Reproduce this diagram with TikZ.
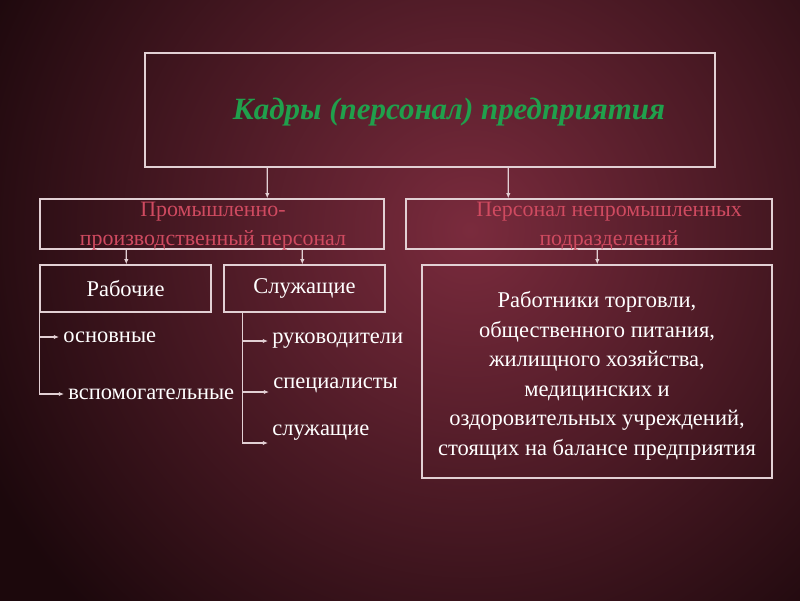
\documentclass[tikz,border=0pt]{standalone}
\usepackage{fontspec}
\setmainfont{Liberation Serif}
\usepackage{xcolor}
\usetikzlibrary{arrows.meta,calc}
\definecolor{bgdark}{HTML}{1C080C}
\definecolor{bglight}{HTML}{7A2B3D}
\definecolor{frame}{HTML}{E2D0D4}
\definecolor{rose}{HTML}{CF4A60}
\definecolor{green2}{HTML}{20A04C}

\begin{document}
\begin{tikzpicture}[
    x=0.025cm,y=-0.025cm,
    box/.style={draw=frame,line width=1pt,inner sep=0pt},
    head/.style={font=\fontsize{15.6}{20.5}\selectfont,text=rose,align=center},
    txt/.style={font=\fontsize{16}{21}\selectfont,text=white},
    item/.style={txt,anchor=west,inner sep=0.1cm},
    arr/.style={-{Latex[length=1.3mm,width=1.1mm]},line width=0.8pt,draw=frame},
  ]
  \useasboundingbox (0,0) rectangle (800,600);
  \fill[bgdark] (-5,-5) rectangle (805,605);
  \begin{scope}
    \clip (-5,-5) rectangle (805,605);
    \shade[inner color=bglight,outer color=bgdark] (470,230) circle[radius=540];
  \end{scope}

  \node[box,minimum width=14.25cm,minimum height=2.85cm] (ttl) at (430,110) {};
  \node[font=\fontsize{22}{27}\selectfont\bfseries\itshape,text=green2] (ttltxt) at (449,112)
    {Кадры (персонал) предприятия};

  \node[box,minimum width=8.6cm,minimum height=1.25cm] (ppp) at (212,224) {};
  \node[head] (ppptxt) at (213,226.5) {Промышленно-\\производственный персонал};
  \node[box,minimum width=9.15cm,minimum height=1.25cm] (npp) at (589,224) {};
  \node[head] (npptxt) at (609,226.5) {Персонал непромышленных\\подразделений};
  \draw[arr] ($(ttl.south west)+(123,0)$) -- ($(ppp.north west)+(228,0)$);
  \draw[arr] ($(ttl.south west)+(364,0)$) -- ($(npp.north west)+(103,0)$);

  \node[box,txt,minimum width=4.275cm,minimum height=1.175cm] (rab) at (125.5,288.5) {Рабочие};
  \node[box,txt,minimum width=4.025cm,minimum height=1.175cm] (slu) at (304.5,288.5) {Служащие};
  \node[box,minimum width=8.75cm,minimum height=5.325cm] (bal) at (597,371.5) {};
  \node[txt,align=center,font=\fontsize{16}{21}\selectfont] (baltxt) at (597,376)
    {Работники торговли,\\общественного питания,\\жилищного хозяйства,\\медицинских и\\
     оздоровительных учреждений,\\стоящих на балансе предприятия};
  \draw[arr] ($(ppp.south west)+(87,0)$) -- ($(rab.north west)+(87,0)$);
  \draw[arr] ($(ppp.south west)+(263,0)$) -- ($(slu.north west)+(79,0)$);
  \draw[arr] ($(npp.south west)+(192,0)$) -- ($(bal.north west)+(176,0)$);

  \node[item] (osn) at (59,337) {основные};
  \node[item] (vsp) at (64,394) {вспомогательные};
  \draw[arr] (rab.south west) |- (osn.west);
  \draw[arr] (rab.south west) |- (vsp.west);

  \coordinate (sv) at ($(slu.south west)+(19,0)$);
  \node[item] (ruk) at (268,341) {руководители};
  \node[item] (spc) at (269,385) {специалисты};
  \node[item] (sl2) at (268,433) {служащие};
  \draw[arr] (sv) |- (ruk.west);
  \draw[arr] (sv) |- ([yshift=-0.175cm]spc.west);
  \draw[arr] (sv) |- ([yshift=-0.25cm]sl2.west);
\end{tikzpicture}
\end{document}
